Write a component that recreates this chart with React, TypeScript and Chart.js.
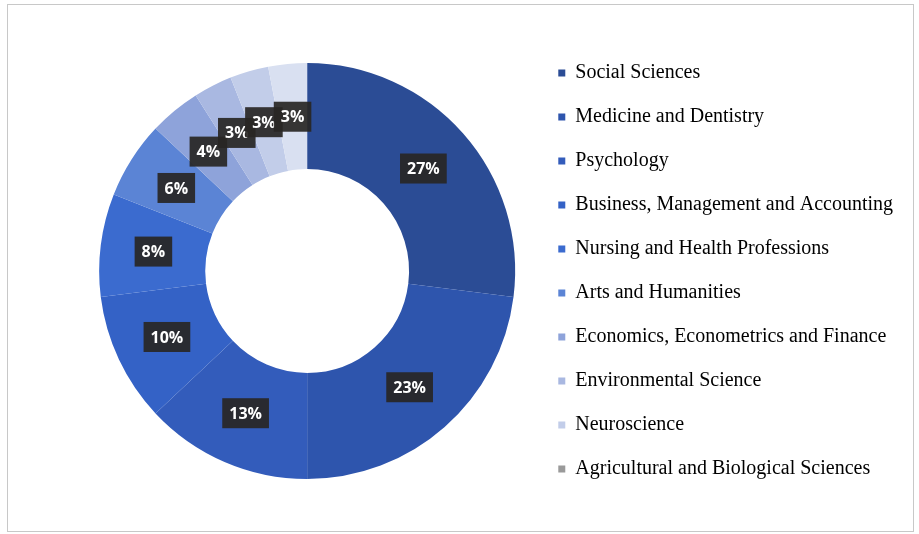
import React, { useEffect, useRef } from "react";
import { Chart, registerables } from "chart.js";

Chart.register(...registerables);

const categories = [
  "Social Sciences",
  "Medicine and Dentistry",
  "Psychology",
  "Business, Management and Accounting",
  "Nursing and Health Professions",
  "Arts and Humanities",
  "Economics, Econometrics and Finance",
  "Environmental Science",
  "Neuroscience",
  "Agricultural and Biological Sciences",
];
const shares = [27, 23, 13, 10, 8, 6, 4, 3, 3, 3];
const sliceColors = [
  "#2b4c95",
  "#2e55ad",
  "#335cbb",
  "#3462c6",
  "#3b6bcf",
  "#5b84d5",
  "#8ea3da",
  "#a9b8e1",
  "#c2cde9",
  "#d9e0f1",
];
const legendColors = [
  "#2b4c95",
  "#2e55ad",
  "#335cbb",
  "#3462c6",
  "#3b6bcf",
  "#5b84d5",
  "#8ea3da",
  "#a9b8e1",
  "#c2cde9",
  "#9a9a9a",
];

const labelPlugin = {
  id: "boxLabels",
  afterDatasetsDraw(chart: any) {
    const ctx = chart.ctx;
    const meta = chart.getDatasetMeta(0);
    ctx.save();
    ctx.font = "bold 16px 'Open Sans', 'DejaVu Sans', sans-serif";
    ctx.textAlign = "center";
    ctx.textBaseline = "middle";
    meta.data.forEach((arc: any, i: number) => {
      const p = arc.tooltipPosition();
      const text = shares[i] + "%";
      const w = ctx.measureText(text).width + 14;
      const h = 30;
      ctx.fillStyle = "rgba(40,38,36,0.92)";
      ctx.fillRect(p.x - w / 2, p.y - h / 2, w, h);
      ctx.fillStyle = "#ffffff";
      ctx.fillText(text, p.x, p.y + 1);
    });
    ctx.restore();
  },
};

export default function App() {
  const ref = useRef<HTMLCanvasElement | null>(null);
  useEffect(() => {
    if (!ref.current) return;
    const chart = new Chart(ref.current, {
      type: "doughnut",
      data: {
        labels: categories,
        datasets: [
          {
            data: shares,
            backgroundColor: sliceColors,
            borderWidth: 0,
          },
        ],
      },
      options: {
        animation: false,
        responsive: false,
        cutout: "49%",
        radius: 208,
        layout: { padding: { top: 6, bottom: 0, left: 72, right: 10 } },
        plugins: {
          tooltip: { enabled: false },
          legend: {
            position: "right",
            align: "center",
            labels: {
              boxWidth: 7,
              boxHeight: 7,
              padding: 24,
              color: "#1a1a1a",
              font: { family: "'Liberation Serif', 'Times New Roman', serif", size: 20 },
              generateLabels: () =>
                categories.map((name, i) => ({
                  text: name,
                  fillStyle: legendColors[i],
                  strokeStyle: legendColors[i],
                  lineWidth: 0,
                  hidden: false,
                  index: i,
                  datasetIndex: 0,
                })),
            },
          },
        },
      },
      plugins: [labelPlugin],
    });
    return () => chart.destroy();
  }, []);
  return (
    <div
      style={{
        position: "absolute",
        left: 7,
        top: 4,
        width: 905,
        height: 526,
        border: "1px solid #c8c8c8",
        background: "#ffffff",
      }}
    >
      <canvas ref={ref} width={905} height={526} style={{ display: "block" }} />
    </div>
  );
}
